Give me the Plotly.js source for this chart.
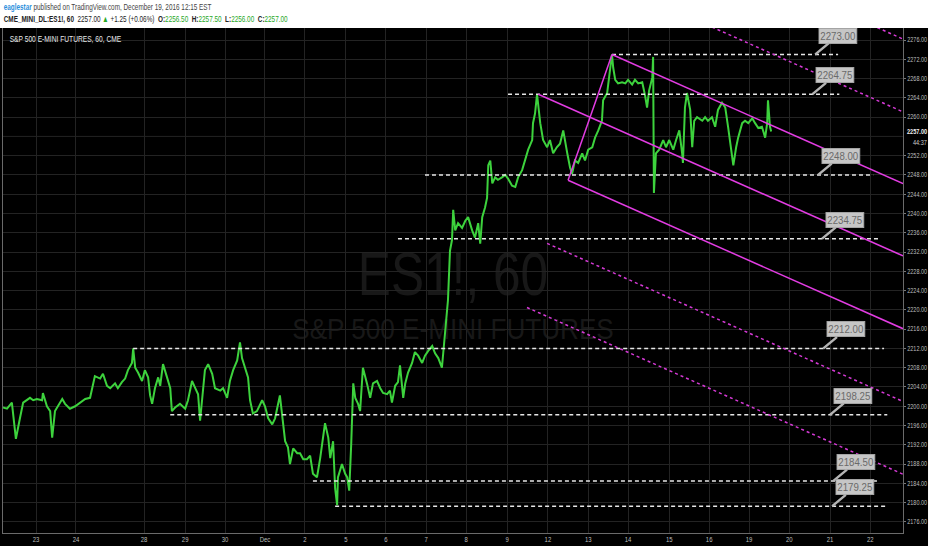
<!DOCTYPE html>
<html><head><meta charset="utf-8">
<script src="https://cdn.plot.ly/plotly-3.0.1.min.js"></script>
<style>html,body{margin:0;padding:0;background:#fff;}#chart{width:932px;height:550px;}</style>
</head><body><div id="chart"></div>
<script>
// hourly ES1! path (x = trading-day index, 0 = Nov 23)
const days = [-0.82,-0.72,-0.60,-0.52,-0.50,-0.40,-0.32,-0.15,-0.07,0.02,0.15,0.17,0.27,0.35,0.40,0.47,0.55,0.65,0.72,0.84,0.97,1.09,1.22,1.34,1.39,1.46,1.59,1.66,1.76,1.84,1.96,2.03,2.13,2.21,2.28,2.38,2.41,2.46,2.53,2.63,2.70,2.78,2.83,2.88,2.95,3.03,3.08,3.15,3.25,3.33,3.37,3.45,3.57,3.70,3.77,3.87,3.95,4.02,4.07,4.14,4.19,4.27,4.37,4.44,4.57,4.64,4.74,4.81,4.89,4.99,5.06,5.11,5.19,5.26,5.31,5.38,5.48,5.61,5.68,5.76,5.86,5.93,6.05,6.13,6.18,6.25,6.30,6.38,6.48,6.55,6.63,6.72,6.80,6.87,6.97,7.05,7.12,7.17,7.25,7.30,7.37,7.42,7.47,7.49,7.59,7.67,7.72,7.77,7.82,7.87,7.92,7.99,8.04,8.11,8.21,8.29,8.36,8.46,8.54,8.61,8.71,8.78,8.83,8.91,8.98,9.03,9.11,9.16,9.23,9.33,9.40,9.48,9.58,9.65,9.73,9.83,9.90,9.98,10.07,10.12,10.22,10.27,10.32,10.35,10.40,10.47,10.57,10.65,10.72,10.82,10.89,10.97,11.02,11.07,11.14,11.19,11.22,11.27,11.32,11.39,11.46,11.56,11.64,11.71,11.81,11.89,11.96,12.06,12.13,12.21,12.31,12.33,12.38,12.43,12.51,12.58,12.68,12.75,12.83,12.92,13.00,13.08,13.18,13.25,13.30,13.37,13.45,13.55,13.62,13.70,13.80,13.87,13.95,14.04,14.07,14.17,14.24,14.29,14.32,14.37,14.44,14.54,14.62,14.69,14.79,14.86,14.94,15.04,15.11,15.16,15.21,15.29,15.31,15.33,15.38,15.46,15.56,15.63,15.71,15.81,15.88,15.96,16.03,16.05,16.10,16.15,16.23,16.28,16.33,16.40,16.53,16.60,16.67,16.77,16.85,16.92,17.02,17.10,17.17,17.25,17.30,17.37,17.42,17.52,17.59,17.67,17.77,17.84,17.92,18.01,18.09,18.14,18.16,18.21,18.24];
const prices = [2199.75,2199.50,2200.75,2195.50,2193.25,2197.50,2200.75,2201.75,2201.25,2201.50,2201.25,2202.75,2200.00,2199.00,2193.50,2199.00,2200.00,2201.50,2200.50,2199.50,2200.00,2200.75,2201.50,2201.75,2203.75,2206.25,2205.75,2206.75,2204.25,2203.75,2204.75,2203.75,2205.00,2205.75,2207.50,2209.00,2212.00,2208.00,2207.00,2205.25,2207.50,2206.00,2202.25,2200.50,2203.75,2206.00,2204.25,2208.75,2206.00,2203.75,2199.00,2199.75,2200.50,2199.50,2201.25,2205.25,2203.75,2202.50,2197.00,2202.50,2207.50,2208.75,2206.75,2203.75,2203.25,2203.75,2201.75,2205.25,2207.50,2209.50,2213.25,2210.00,2208.00,2206.00,2201.25,2198.50,2199.00,2201.25,2200.00,2197.50,2196.25,2197.50,2202.25,2197.00,2192.75,2191.50,2188.00,2191.25,2190.25,2190.25,2189.00,2189.00,2189.75,2186.00,2185.25,2189.25,2194.25,2196.50,2193.50,2189.25,2192.75,2183.00,2179.50,2185.25,2188.00,2186.00,2185.25,2182.50,2192.25,2204.75,2201.75,2200.50,2199.00,2208.00,2204.75,2201.75,2204.75,2205.25,2203.75,2202.75,2202.50,2203.25,2200.75,2204.25,2205.00,2208.50,2201.75,2204.75,2207.00,2209.00,2211.25,2210.50,2209.00,2210.50,2211.50,2212.50,2211.00,2210.00,2208.00,2213.00,2222.00,2232.25,2234.50,2240.75,2236.50,2238.00,2237.00,2238.50,2239.25,2236.50,2235.00,2238.00,2233.75,2239.25,2241.25,2243.25,2250.00,2251.00,2246.25,2247.50,2247.00,2247.50,2248.00,2247.25,2245.75,2245.50,2247.50,2249.00,2251.00,2253.25,2255.25,2258.75,2260.75,2264.75,2258.75,2255.25,2253.75,2255.25,2252.50,2253.75,2254.50,2257.25,2252.50,2249.50,2248.25,2251.00,2250.50,2252.50,2251.00,2253.25,2253.75,2255.75,2257.25,2259.25,2263.50,2265.00,2269.75,2273.00,2270.25,2267.75,2267.00,2267.25,2267.00,2267.75,2266.75,2267.75,2267.00,2267.25,2264.50,2262.00,2265.50,2268.25,2272.50,2244.25,2252.50,2253.25,2255.25,2253.75,2255.25,2253.25,2255.25,2257.25,2252.50,2250.50,2262.00,2265.00,2261.50,2253.75,2259.25,2260.00,2259.25,2260.00,2259.25,2260.00,2258.00,2261.50,2263.00,2262.00,2258.00,2253.25,2250.00,2253.75,2255.75,2258.75,2259.25,2258.75,2259.75,2258.75,2257.75,2258.00,2255.75,2258.75,2263.50,2258.00,2257.00];

const dayTickVals = [0,0.99,2.68,3.70,4.69,5.68,6.67,7.69,8.68,9.68,10.67,11.69,12.70,13.70,14.69,15.71,16.70,17.69,18.69,19.70,20.70];
const dayTickText = ['23','24','28','29','30','Dec','2','5','6','7','8','9','12','13','14','15','16','19','20','21','22'];
// right-axis labels (2256 is hidden behind the last-price marker)
const priceTickVals = [2176,2180,2184,2188,2192,2196,2200,2204,2208,2212,2216,2220,2224,2228,2232,2236,2240,2244,2248,2252,2260,2264,2268,2272,2276];
const hiddenGridPrice = 2256;
const lastPrice = 2257.00;

// horizontal levels
const levelPrices = [2273.00,2264.75,2248.00,2234.75,2212.00,2198.25,2184.50,2179.25];
const levelStart  = [14.29,11.71,9.65,8.98,2.41,3.33,6.87,7.42];
const levelEnd    = [19.90,19.93,20.77,20.94,21.04,21.12,20.87,21.07];
const labelTip    = [19.33,19.26,19.40,19.50,19.53,19.70,19.78,19.75];

// pitchfork lines [x0, y0, x1, y1]
const forkSolid  = [[13.20,2246.9,14.29,2273.0],[14.29,2273.0,21.51,2246.2],[12.46,2264.75,21.51,2231.2],[13.20,2246.9,21.51,2216.1]];
const forkDashed = [[20.6,2279.6,21.51,2276.2],[16.5,2279.7,21.51,2261.1],[12.68,2233.8,21.51,2201.0],[12.18,2220.5,21.51,2185.9]];

const FONT = "'Liberation Sans', Arial, sans-serif";

const shapes = [];
shapes.push({type:'rect', xref:'paper', yref:'paper', x0:-0.0034, x1:1.0278, y0:-0.0257, y1:1.0, fillcolor:'#000', line:{width:0}, layer:'below'});
shapes.push({type:'rect', xref:'paper', yref:'paper', x0:0.30, x1:0.70, y0:0.45, y1:0.60, fillcolor:'rgba(0,0,0,0)', line:{width:0}, layer:'below',
  label:{text:'ES1!, 60', textposition:'middle center', font:{family:FONT, size:62, color:'#181818'}}});
shapes.push({type:'rect', xref:'paper', yref:'paper', x0:0.30, x1:0.70, y0:0.38, y1:0.44, fillcolor:'rgba(0,0,0,0)', line:{width:0}, layer:'below',
  label:{text:'S&P 500 E-MINI FUTURES', textposition:'middle center', font:{family:FONT, size:29, color:'#181818'}}});
shapes.push({type:'line', xref:'paper', yref:'y', x0:0, x1:1, y0:hiddenGridPrice, y1:hiddenGridPrice, line:{color:'#232323', width:1}, layer:'below'});
levelPrices.forEach((p,i)=>{
  shapes.push({type:'line', xref:'x', yref:'y', x0:levelStart[i], x1:levelEnd[i], y0:p, y1:p, line:{color:'#e6e6e6', width:1.5, dash:'4px,3px'}});
});
forkSolid.forEach(s=>{
  shapes.push({type:'line', xref:'x', yref:'y', x0:s[0], y0:s[1], x1:s[2], y1:s[3], line:{color:'#e23ce2', width:1.5}});
});
forkDashed.forEach(s=>{
  shapes.push({type:'line', xref:'x', yref:'y', x0:s[0], y0:s[1], x1:s[2], y1:s[3], line:{color:'#d63ad6', width:1.5, dash:'3px,3px'}});
});

const annotations = [];
levelPrices.forEach((p,i)=>{
  annotations.push({x:labelTip[i], y:p, xref:'x', yref:'y', text:p.toFixed(2), showarrow:true, arrowhead:0, arrowwidth:2.5, arrowcolor:'#b4b4b4',
    ax:26, ay:-19, bgcolor:'#c6c6c6', bordercolor:'#a4a4a4', borderwidth:1, borderpad:1, font:{family:FONT, size:11, color:'#6a6a6a'}});
});
annotations.push({xref:'paper', yref:'paper', x:-0.001, y:1.0416, xanchor:'left', yanchor:'middle', showarrow:false,
  text:'<span style="color:#2d8fdc"><b>eaglestar</b></span> published on TradingView.com, December 19, 2016 12:15 EST',
  font:{family:FONT, size:9, color:'#444'}});
annotations.push({xref:'paper', yref:'paper', x:-0.001, y:1.0178, xanchor:'left', yanchor:'middle', showarrow:false,
  text:'<b>CME_MINI_DL:ES1!, 60</b>  2257.00 <span style="color:#27a827">▲</span> +1.25 (+0.06%)  <b>O:</b><span style="color:#27a827">2256.50</span>  <b>H:</b><span style="color:#27a827">2257.50</span>  <b>L:</b><span style="color:#27a827">2256.00</span>  <b>C:</b><span style="color:#27a827">2257.00</span>',
  font:{family:FONT, size:9, color:'#222'}});
annotations.push({xref:'paper', yref:'paper', x:0.0056, y:0.978, xanchor:'left', yanchor:'middle', showarrow:false,
  text:'S&P 500 E-MINI FUTURES, 60, CME', font:{family:FONT, size:9, color:'#e8e8e8'}});
annotations.push({xref:'paper', yref:'y', x:1, y:lastPrice, xanchor:'left', yanchor:'middle', xshift:3, showarrow:false,
  text:'<b>' + lastPrice.toFixed(2) + '</b>', borderpad:0, font:{family:FONT, size:7, color:'#f0f0f0'}});
annotations.push({xref:'paper', yref:'y', x:1, y:lastPrice, xanchor:'left', yanchor:'middle', xshift:9, yshift:-11, showarrow:false,
  text:'44:37', borderpad:0, font:{family:FONT, size:7, color:'#d0d0d0'}});

const trace = {x:days, y:prices, type:'scatter', mode:'lines', line:{color:'#3dd23d', width:2}, hoverinfo:'skip'};

const layout = {
  width:932, height:550,
  margin:{l:3, r:29, t:28, b:17, pad:0},
  paper_bgcolor:'#ffffff', plot_bgcolor:'rgba(0,0,0,0)',
  showlegend:false,
  xaxis:{range:[-0.82,21.51], tickvals:dayTickVals, ticktext:dayTickText, showgrid:true, gridcolor:'#232323', gridwidth:1,
    zeroline:false, showline:true, linecolor:'#6a6a6a', linewidth:1, ticks:'', tickfont:{family:FONT, size:7, color:'#bdbdbd'}, fixedrange:true},
  yaxis:{range:[2173.7,2278.5], side:'right', tickmode:'array', tickvals:priceTickVals, ticktext:priceTickVals.map(v=>v.toFixed(2)),
    showgrid:true, gridcolor:'#232323', gridwidth:1,
    zeroline:false, showline:true, mirror:true, linecolor:'#6a6a6a', linewidth:1, ticks:'outside', ticklen:2, tickcolor:'#777',
    tickfont:{family:FONT, size:6.5, color:'#bdbdbd'}, fixedrange:true},
  shapes:shapes, annotations:annotations
};

// condense text horizontally, like the narrow chart font
function squeezeText(el, f){
  try { const w = el.getComputedTextLength(); if (w > 0){ el.setAttribute('textLength', (w*f).toFixed(2)); el.setAttribute('lengthAdjust','spacingAndGlyphs'); } } catch(e){}
}
function squeezeGroup(g, f){
  try { const b = g.getBBox(); const L = b.x; g.setAttribute('transform', 'translate(' + L + ',0) scale(' + f + ',1) translate(' + (-L) + ',0)'); } catch(e){}
}
Plotly.newPlot('chart', [trace], layout, {displayModeBar:false, staticPlot:true}).then(gd=>{
  gd.querySelectorAll('g.ytick text').forEach(t=>squeezeText(t, 0.84));
  gd.querySelectorAll('g.xtick text').forEach(t=>squeezeText(t, 0.85));
  gd.querySelectorAll('.shapelayer text').forEach((t,i)=>squeezeText(t, t.textContent.indexOf('ES1')>=0 ? 0.8 : 0.9));
  const ann = gd.querySelectorAll('g.annotation');
  const n = levelPrices.length;
  ann.forEach((g,i)=>{
    if (i === n || i === n+1) squeezeGroup(g, 0.71);
    else if (i === n+2) squeezeGroup(g, 0.74);
    else if (i >= n+3) squeezeGroup(g, 0.8);
    else squeezeGroup(g, 0.88);
  });
});
</script></body></html>
